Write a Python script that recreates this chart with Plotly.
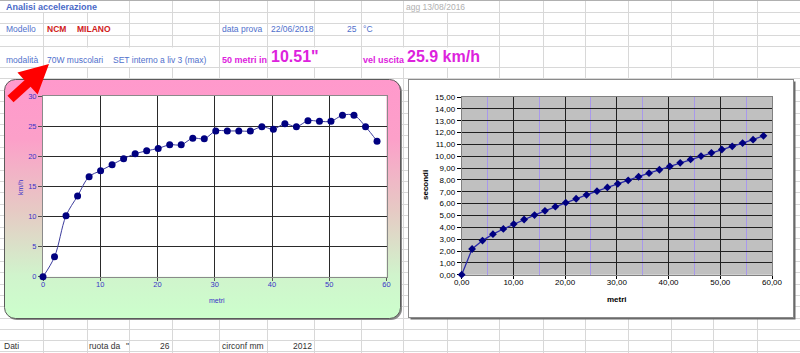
import base64
import math
import plotly.graph_objects as go

W, H = 800, 353

# ---------------- data ----------------
distanza_m = [0, 2.01, 4.02, 6.04, 8.05, 10.06, 12.07, 14.08, 16.10, 18.11,
              20.12, 22.13, 24.14, 26.16, 28.17, 30.18, 32.19, 34.20, 36.22, 38.23,
              40.24, 42.25, 44.26, 46.28, 48.29, 50.30, 52.31, 54.32, 56.34, 58.35]
velocita_kmh = [0, 3.3, 10.1, 13.4, 16.6, 17.6, 18.6, 19.6, 20.4, 20.9,
                21.3, 21.9, 21.9, 23.0, 22.9, 24.2, 24.2, 24.2, 24.2, 24.9,
                24.5, 25.4, 24.9, 25.9, 25.8, 25.8, 26.8, 26.8, 24.9, 22.5]
tempo_s = [0, 2.17, 2.88, 3.42, 3.86, 4.27, 4.66, 5.03, 5.39, 5.74,
           6.08, 6.41, 6.74, 7.05, 7.37, 7.67, 7.97, 8.27, 8.57, 8.86,
           9.15, 9.44, 9.73, 10.01, 10.29, 10.57, 10.84, 11.11, 11.40, 11.72]

left_x_ticks = [0, 10, 20, 30, 40, 50, 60]
left_y_ticks = [0, 5, 10, 15, 20, 25, 30]
right_x_ticks = [0, 10, 20, 30, 40, 50, 60]
right_y_ticks = list(range(0, 16))

FONT = "Arial, 'Liberation Sans', sans-serif"
BLUE = '#5070cc'
MAG = '#dd22dd'
RED = '#d02020'
CHART_TXT = '#3a33c8'


def px(x):
    return x / W


def py(y):
    return 1 - y / H


# ---------------- background (spreadsheet + chart frames) ----------------
cols = [43.5, 87.5, 129.5, 172.5, 219.5, 267.5, 314.5, 361.5, 403.5, 447.5,
        499.5, 543.5, 585.5, 628.5, 671.5, 713.5, 757.5]
rows = [12.5, 23.5, 35.5, 46.5, 67.5] + [round(67 + k * 11.4) + 0.5 for k in range(1, 24)] + [340.5, 351.5]
masks = [(40, 100, 1.5, 12), (440, 468, 1.5, 12),
         (80, 100, 24.5, 35), (80, 100, 47.5, 67), (120, 206, 47.5, 67),
         (300, 320, 47.5, 67), (395, 482, 47.5, 67)]

svg = [f'<svg xmlns="http://www.w3.org/2000/svg" width="{W}" height="{H}" viewBox="0 0 {W} {H}">',
       '<defs><linearGradient id="g" x1="0" y1="0" x2="0" y2="1">'
       '<stop offset="0" stop-color="#ff99cc"/><stop offset="0.25" stop-color="#fca0c9"/>'
       '<stop offset="0.55" stop-color="#e6cac4"/><stop offset="0.82" stop-color="#d0f4cc"/>'
       '<stop offset="1" stop-color="#ccffcc"/></linearGradient></defs>',
       f'<rect width="{W}" height="{H}" fill="#ffffff"/>']
for c in cols:
    svg.append(f'<line x1="{c}" y1="0" x2="{c}" y2="{H}" stroke="#d8d8d8" stroke-width="1"/>')
for r in rows:
    svg.append(f'<line x1="0" y1="{r}" x2="{W}" y2="{r}" stroke="#d8d8d8" stroke-width="1"/>')
svg.append(f'<line x1="0" y1="0.5" x2="{W}" y2="0.5" stroke="#b0b0b0" stroke-width="1"/>')
for (x0, x1, y0, y1) in masks:
    svg.append(f'<rect x="{x0}" y="{y0}" width="{x1 - x0}" height="{y1 - y0}" fill="#ffffff"/>')
# left chart frame
svg.append('<rect x="6" y="81" width="396" height="239" rx="11" fill="#8a8a8a"/>')
svg.append('<rect x="4.5" y="79.5" width="396" height="239" rx="11" fill="url(#g)" stroke="#5a5a5a" stroke-width="1"/>')
# right chart frame
svg.append('<rect x="410.5" y="81.5" width="385" height="238" fill="#6a6a6a"/>')
svg.append('<rect x="408.5" y="79.5" width="385" height="238" fill="#ffffff" stroke="#8a8a8a" stroke-width="1"/>')
svg.append('</svg>')
bg_uri = 'data:image/svg+xml;base64,' + base64.b64encode(''.join(svg).encode()).decode()

# ---------------- figure ----------------
fig = go.Figure()
fig.add_trace(go.Scatter(x=distanza_m, y=velocita_kmh, mode='lines+markers',
                         line=dict(color='#3c3c9c', width=1, shape='spline'),
                         marker=dict(size=7, color='#000080'),
                         cliponaxis=False, xaxis='x', yaxis='y', hoverinfo='skip'))
fig.add_trace(go.Scatter(x=distanza_m, y=tempo_s, mode='lines+markers',
                         line=dict(color='#2a2aa8', width=1.3),
                         marker=dict(size=6, color='#000080', symbol='diamond'),
                         cliponaxis=False, xaxis='x2', yaxis='y2', hoverinfo='skip'))

ax_common = dict(showline=True, mirror=True, zeroline=False, ticks='outside',
                 fixedrange=True, layer='below traces', automargin=False)

fig.update_layout(
    template='none',
    width=W, height=H, autosize=False,
    margin=dict(l=0, r=0, t=0, b=0, pad=0, autoexpand=False),
    paper_bgcolor='#ffffff', plot_bgcolor='rgba(0,0,0,0)',
    separators=',.', showlegend=False,
    font=dict(family=FONT),
    xaxis=dict(domain=[px(43), px(386.5)], range=[0, 60], tickvals=left_x_ticks,
               showgrid=True, gridcolor='#2a2a2a', gridwidth=1, linecolor='#8a8a8a',
               tickcolor='#555555', tickfont=dict(size=7.5, color=CHART_TXT, family=FONT),
               ticklen=3, ticklabelstandoff=-3, anchor='y', **ax_common),
    yaxis=dict(domain=[py(276.7), py(96)], range=[0, 30], tickvals=left_y_ticks,
               showgrid=True, gridcolor='#2a2a2a', gridwidth=1, linecolor='#8a8a8a',
               tickcolor='#555555', tickfont=dict(size=7.5, color=CHART_TXT, family=FONT),
               ticklen=4, anchor='x', **ax_common),
    xaxis2=dict(domain=[px(461.7), px(772)], range=[0, 60], tickvals=right_x_ticks,
                tickformat='.2f', showgrid=True, gridcolor='#202020', gridwidth=1,
                linecolor='#808080', tickcolor='#000000',
                tickfont=dict(size=8, color='#000000', family=FONT),
                minor=dict(dtick=5, tick0=0, showgrid=True, gridcolor='#a898ec', gridwidth=1),
                ticklen=3, ticklabelstandoff=-3, anchor='y2', **ax_common),
    yaxis2=dict(domain=[py(274.7), py(97)], range=[0, 15], tickvals=right_y_ticks,
                tickformat='.2f', showgrid=True, gridcolor='#202020', gridwidth=1,
                linecolor='#808080', tickcolor='#000000',
                tickfont=dict(size=8, color='#000000', family=FONT),
                ticklen=4, anchor='x2', **ax_common),
)

fig.add_layout_image(dict(source=bg_uri, xref='paper', yref='paper', x=0, y=1,
                          sizex=1, sizey=1, xanchor='left', yanchor='top',
                          sizing='stretch', layer='below'))

# plot-area fills
fig.add_shape(type='rect', xref='x domain', yref='y domain', x0=0, x1=1, y0=0, y1=1,
              fillcolor='#ffffff', line=dict(width=0), layer='below')
fig.add_shape(type='rect', xref='x2 domain', yref='y2 domain', x0=0, x1=1, y0=0, y1=1,
              fillcolor='#c0c0c0', line=dict(width=0), layer='below')

# red arrow
tip = (49, 64)
tail = (10.5, 99)
dx, dy = tip[0] - tail[0], tip[1] - tail[1]
L = math.hypot(dx, dy)
ux, uy = dx / L, dy / L
nx, ny = -uy, ux
head_len, head_hw, shaft_hw = 29, 15, 4.5
bx, by = tip[0] - ux * head_len, tip[1] - uy * head_len
pts = [tip,
       (bx + nx * head_hw, by + ny * head_hw),
       (bx + nx * shaft_hw, by + ny * shaft_hw),
       (tail[0] + nx * shaft_hw, tail[1] + ny * shaft_hw),
       (tail[0] - nx * shaft_hw, tail[1] - ny * shaft_hw),
       (bx - nx * shaft_hw, by - ny * shaft_hw),
       (bx - nx * head_hw, by - ny * head_hw)]
path = 'M ' + ' L '.join(f'{px(a):.5f},{py(b):.5f}' for a, b in pts) + ' Z'
fig.add_shape(type='path', path=path, xref='paper', yref='paper',
              fillcolor='#ff0000', line=dict(width=0), layer='above')


def txt(x, y, s, color, size, bold=False, anchor='left', angle=0):
    fig.add_annotation(x=px(x), y=py(y), xref='paper', yref='paper', text=(f'<b>{s}</b>' if bold else s),
                       showarrow=False, xanchor=anchor, yanchor='middle', textangle=angle,
                       font=dict(family=FONT, size=size, color=color), borderpad=0)


# spreadsheet texts
txt(5, 6.8, 'Analisi accelerazione', '#4a6ac8', 9, bold=True)
txt(405, 6.8, 'agg 13/08/2016', '#b0b0b0', 8.5)
txt(5, 29.5, 'Modello', BLUE, 8.5)
txt(45.5, 29.5, 'NCM', RED, 8.5, bold=True)
txt(75.5, 29.5, 'MILANO', RED, 8.5, bold=True)
txt(221, 29.5, 'data prova', BLUE, 8.5)
txt(270, 29.5, '22/06/2018', BLUE, 8.5)
txt(357.5, 29.5, '25', BLUE, 8.5, anchor='right')
txt(362, 29.5, '°C', BLUE, 8.5)
txt(5, 59.5, 'modalità', BLUE, 8.5)
txt(46, 59.5, '70W muscolari', BLUE, 8.5)
txt(112, 59.5, 'SET interno a liv 3 (max)', BLUE, 8.5)
txt(221, 59.5, '50 metri in', MAG, 9, bold=True)
txt(270, 57, '10.51"', MAG, 16, bold=True)
txt(362, 59.5, 'vel uscita', MAG, 9, bold=True)
txt(406, 57, '25.9 km/h', MAG, 16, bold=True)
txt(3, 345.8, 'Dati', '#333333', 8.5)
txt(88, 345.8, 'ruota da', '#333333', 8.5)
txt(124.5, 345.8, '"', '#333333', 8.5)
txt(170.5, 345.8, '26', '#333333', 8.5, anchor='right')
txt(221, 345.8, 'circonf mm', '#333333', 8.5)
txt(312.5, 345.8, '2012', '#333333', 8.5, anchor='right')

# axis titles
txt(216.5, 300, 'metri', CHART_TXT, 7, anchor='center')
txt(20, 188, 'km/h', CHART_TXT, 7, anchor='center', angle=-90)
txt(616.5, 299.5, 'metri', '#000000', 8, bold=True, anchor='center')
txt(425, 185, 'secondi', '#000000', 8, bold=True, anchor='center', angle=-90)

fig.write_html('out.html', config={'displayModeBar': False, 'staticPlot': True},
               post_script="document.body.style.margin='0';document.body.style.overflow='hidden';")
